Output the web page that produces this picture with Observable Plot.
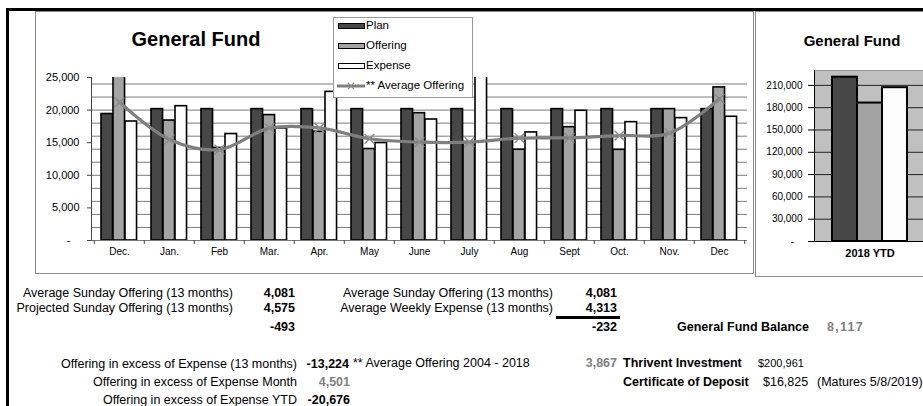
<!DOCTYPE html>
<html><head><meta charset="utf-8">
<script src="https://cdn.jsdelivr.net/npm/d3@7"></script>
<script src="https://cdn.jsdelivr.net/npm/@observablehq/plot@0.6"></script>
<style>
html,body{margin:0;padding:0;background:#fff;}
#page{position:relative;width:923px;height:406px;overflow:hidden;font-family:"Liberation Sans",Arial,sans-serif;color:#000;}
.abs{position:absolute;}
.txt{position:absolute;white-space:nowrap;line-height:1;transform:translateY(-50%);font-size:12.5px;}
svg{font-family:"Liberation Sans",Arial,sans-serif;}
</style></head><body><div id="page"></div>
<script>
// ---- data ----
const months = ["Dec.","Jan.","Feb","Mar.","Apr.","May","June","July","Aug","Sept","Oct.","Nov.","Dec"];
const plan      = [19400,20150,20150,20150,20150,20150,20150,20150,20150,20150,20150,20150,20150];
const offering  = [26932,18400,14200,19235,16680,14030,19530,15100,13930,17380,13910,20150,23480];
const expense   = [18250,20600,16330,17190,22800,14950,18560,26300,16580,19900,18150,18770,18979];
const avgOffering = [21200,15500,13950,17230,17260,15600,15080,15080,15700,15750,16100,16460,21730];
const yTicks = [0,5000,10000,15000,20000,25000];
const gridLines = [0,2000,4000,6000,8000,10000,12000,14000,16000,18000,20000,22000,24000];
const seriesNames = ["Plan","Offering","Expense"];
const seriesColors = ["#474747","#a3a3a3","#fcfcfc"];
const lineName = "** Average Offering";

const ytdCategory = ["2018 YTD"];
const ytdValues = [221000,186200,206876];
const ytdTicks = [0,30000,60000,90000,120000,150000,180000,210000];

const leftLabels  = ["Average Sunday Offering (13 months)","Projected Sunday Offering (13 months)"];
const leftValues  = ["4,081","4,575","-493"];
const midLabels   = ["Average Sunday Offering (13 months)","Average Weekly Expense (13 months)"];
const midValues   = ["4,081","4,313","-232"];
const excessLabels = ["Offering in excess of Expense (13 months)","Offering in excess of Expense Month","Offering in excess of Expense YTD"];
const excessValues = ["-13,224","4,501","-20,676"];

const page = document.getElementById("page");
function box(l,t,w,h,css){const d=document.createElement("div");d.className="abs";Object.assign(d.style,{left:l+"px",top:t+"px",width:w+"px",height:h+"px"},css||{});page.appendChild(d);return d;}
function txt(s,x,y,o){o=o||{};const d=document.createElement("div");d.className="txt";d.textContent=s;
  d.style.top=y+"px";
  if(o.align==="right"){d.style.right=(923-x)+"px";} else if(o.align==="center"){d.style.left=x+"px";d.style.transform="translate(-50%,-50%)";} else {d.style.left=x+"px";}
  if(o.bold)d.style.fontWeight="bold"; if(o.color)d.style.color=o.color; if(o.size)d.style.fontSize=o.size+"px";
  if(o.ls)d.style.letterSpacing=o.ls+"px";
  page.appendChild(d);return d;}

// frames
box(35,11,717,261,{border:"1px solid #8a8a8a"});
box(755,11,200,264,{border:"1px solid #8a8a8a"});
box(6,8,917,3,{background:"#000"});
box(6,8,3,398,{background:"#000"});

// ---- main chart ----
const rows = months.map((m,i)=>({month:m, plan:plan[i], offering:offering[i], expense:expense[i], avg:avgOffering[i]}));
const W = 718, ML = 56, MR = 6;
const bw = (W-ML-MR)/months.length;
const barW = 12, offs = [7,19,31];
const keys = ["plan","offering","expense"];
const fmt = d => d===0 ? "-\u00a0\u00a0\u00a0" : d3.format(",")(d);

const main = Plot.plot({
  width: W, height: 262, marginLeft: ML, marginRight: MR, marginTop: 66, marginBottom: 33,
  style: {background:"transparent", overflow:"visible"},
  x: {domain: months, padding: 0, label: null},
  y: {domain: [0,25000], label: null},
  marks: [
    Plot.ruleY(gridLines, {stroke:"#7a7a7a", strokeWidth:1}),
    ...keys.map((k,j)=>Plot.barY(rows, {x:"month", y:k, fill:seriesColors[j], stroke:"#000", strokeWidth:1.6,
        insetLeft: offs[j], insetRight: bw-offs[j]-barW, clip:true})),
    Plot.line(rows, {x:"month", y:"avg", stroke:"#7f7f7f", strokeWidth:3.2, curve:"catmull-rom"}),
    Plot.dot(rows, {x:"month", y:"avg", symbol:"times", stroke:"#8c8c8c", r:4.5, strokeWidth:1.5}),
    Plot.frame({anchor:"left", stroke:"#444"}),
    Plot.axisY(yTicks, {tickSize:4, tickPadding:8, fontSize:11, tickFormat: fmt, stroke:"#444", label:null}),
    Plot.axisX({tickSize:0, tickPadding:7, fontSize:10, label:null}),
    Plot.axisX({tickSize:4, text:null, dx:-bw/2, stroke:"#444", label:null}),
    Plot.axisX({ticks:[months[months.length-1]], tickSize:4, text:null, dx:bw/2, stroke:"#444", label:null})
  ]
});
main.style.position="absolute"; main.style.left="35px"; main.style.top="11px";
page.appendChild(main);

// title + legend
txt("General Fund",196,39,{align:"center",bold:true,size:20});
box(333,17,138,79,{border:"1px solid #9a9a9a",background:"#fff"});
seriesNames.forEach((n,j)=>{
  box(338,23+20*j,25,4,{background:seriesColors[j],border:"1.2px solid #000"});
  txt(n,366,26+20*j,{size:11.5});
});
(function(){
  const s=document.createElementNS("http://www.w3.org/2000/svg","svg");
  s.setAttribute("width",30);s.setAttribute("height",10);
  s.style.position="absolute";s.style.left="336px";s.style.top="81px";
  s.innerHTML='<line x1="1" y1="5" x2="29" y2="5" stroke="#7f7f7f" stroke-width="3"/><path d="M12,2L18,8M18,2L12,8" stroke="#8c8c8c" stroke-width="1.3"/>';
  page.appendChild(s);
  txt(lineName,366,86,{size:11.5});
})();

// ---- YTD chart ----
const ytdRows = [{cat:ytdCategory[0], plan:ytdValues[0], offering:ytdValues[1], expense:ytdValues[2]}];
const RW = 170, RML = 59, RMR = 0;
const rbw = RW-RML-RMR;
const roffs=[18,43,68], rbarW=25;
const ytd = Plot.plot({
  width: RW, height: 265, marginLeft: RML, marginRight: RMR, marginTop: 59, marginBottom: 35,
  style: {background:"transparent", overflow:"visible"},
  x: {domain: ytdCategory, padding: 0, label: null},
  y: {domain: [0,230000], label: null},
  marks: [
    Plot.frame({fill:"#c0c0c0", stroke:"#9a9a9a"}),
    Plot.ruleY(ytdTicks.filter(d=>d>0), {stroke:"#222", strokeWidth:1}),
    ...keys.map((k,j)=>Plot.barY(ytdRows, {x:"cat", y:k, fill:seriesColors[j], stroke:"#000", strokeWidth:2,
        insetLeft: roffs[j], insetRight: rbw-roffs[j]-rbarW})),
    Plot.ruleY([0], {stroke:"#000"}),
    Plot.frame({anchor:"left", stroke:"#000"}),
    Plot.axisY(ytdTicks, {tickSize:6, tickPadding:6, fontSize:10, tickFormat: fmt, label:null}),
    Plot.axisX({tickSize:0, tickPadding:8, fontSize:11, fontWeight:"bold", label:null})
  ]
});
ytd.style.position="absolute"; ytd.style.left="755px"; ytd.style.top="11px";
page.appendChild(ytd);
txt("General Fund",852,40,{align:"center",bold:true,size:15});

// ---- summary table ----
txt(leftLabels[0],233,293,{align:"right"});
txt(leftLabels[1],233,308,{align:"right"});
leftValues.forEach((v,i)=>txt(v,295,[293,308,327][i],{align:"right",bold:true}));
txt(midLabels[0],553,293,{align:"right"});
txt(midLabels[1],553,308,{align:"right"});
midValues.forEach((v,i)=>txt(v,617,[293,308,327][i],{align:"right",bold:true}));
box(556,316,64,3,{background:"#000"});
txt("General Fund Balance",677,327,{bold:true});
txt("8,117",827,327,{bold:true,color:"#808080",ls:1.3});
excessLabels.forEach((s,i)=>txt(s,297,[364,382,400][i],{align:"right"}));
txt(excessValues[0],349,364,{align:"right",bold:true});
txt(excessValues[1],350,382,{align:"right",bold:true,color:"#808080"});
txt(excessValues[2],350,400,{align:"right",bold:true});
txt("** Average Offering 2004 - 2018",353,363);
txt("3,867",617,363,{align:"right",bold:true,color:"#808080"});
txt("Thrivent Investment",623,363,{bold:true});
txt("$200,961",758,363,{size:11});
txt("Certificate of Deposit",623,382,{bold:true});
txt("$16,825",763,382);
txt("(Matures 5/8/2019)",817,382);
</script></body></html>
